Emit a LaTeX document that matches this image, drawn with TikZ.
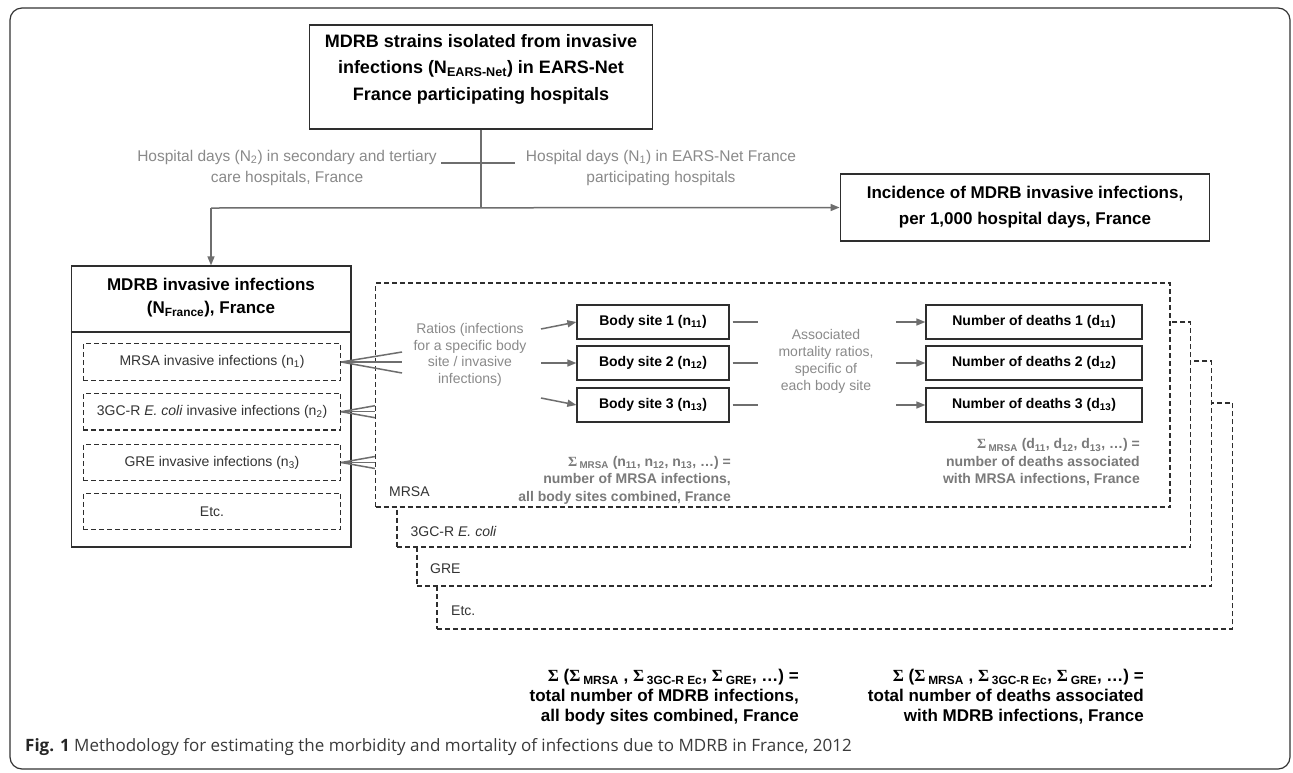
\documentclass[tikz,border=0pt]{standalone}
\usepackage{fontspec}
\setmainfont{Liberation Sans}
\newfontfamily\sigfont{Liberation Serif}
\newfontfamily\capfont{Open Sans}
\usetikzlibrary{arrows.meta}
\definecolor{framec}{HTML}{333333}
\definecolor{boxc}{HTML}{2E2E2E}
\definecolor{linegray}{HTML}{6E6E6E}
\definecolor{lblgray}{HTML}{8A8A8A}
\definecolor{sumgray}{HTML}{7A7A7A}
\definecolor{rowc}{HTML}{333333}
\definecolor{capc}{HTML}{3A3A3A}
\newcommand\mysig{{\sigfont Σ}}
\begin{document}
\begin{tikzpicture}[x=1pt,y=-1pt,
  box/.style={draw=boxc, line width=1.3pt, inner sep=0pt},
  dbox/.style={draw=boxc, line width=1.1pt, dash pattern=on 5pt off 3pt, inner sep=0pt,
     font=\fontsize{14}{17}\selectfont, text=rowc},
  frame/.style={draw=boxc, line width=1.1pt, dash pattern=on 5pt off 3pt, fill=white, inner sep=0pt},
  conn/.style={draw=linegray, line width=1.5pt},
  arr/.style={conn, -{Triangle[length=9pt,width=7pt]}},
  title/.style={font=\fontsize{17}{26}\selectfont\bfseries, align=center, text=black},
  bsbox/.style={box, font=\fontsize{14}{17}\selectfont\bfseries, text=black},
  lbl/.style={font=\fontsize{15.5}{21}\selectfont, align=center, text=lblgray},
  lblsm/.style={font=\fontsize{14}{16.5}\selectfont, align=center, text=lblgray},
  frlbl/.style={font=\fontsize{14}{17}\selectfont, text=rowc, anchor=west, inner sep=0pt},
  sumg/.style={font=\fontsize{14}{17.5}\selectfont\bfseries, align=right, text=sumgray, anchor=east, inner sep=0pt},
  sumk/.style={font=\fontsize{17}{20}\selectfont\bfseries, align=right, text=black, anchor=east, inner sep=0pt}
]
\useasboundingbox (0,0) rectangle (1293,772);
\fill[white] (0,0) rectangle (1293,772);
% outer frame
\draw[draw=framec, line width=1.2pt, rounded corners=12pt] (10,8) rectangle (1290,769);

% top box
\node[box, minimum width=343.5pt, minimum height=104pt] (top) at (481,77) {};
\node[title, font=\fontsize{18}{26.5}\selectfont\bfseries] (toptxt) at (481,69)
  {MDRB strains isolated from invasive\\infections (N\textsubscript{EARS-Net}) in EARS-Net\\France participating hospitals};

% hospital days labels
\node[lbl] (hdL) at (287,167.5) {Hospital days (N\textsubscript{2}) in secondary and tertiary\\care hospitals, France};
\node[lbl] (hdR) at (661,167.5) {Hospital days (N\textsubscript{1}) in EARS-Net France\\participating hospitals};
\coordinate (hl1) at (441,163);
\coordinate (hl2) at (514.5,163);
\draw[conn] (hl1) -- (hl2);

% incidence box
\node[box, minimum width=369.6pt, minimum height=67pt, font=\fontsize{17}{26}\selectfont\bfseries, align=center] (inc) at (1025,207.5)
  {Incidence of MDRB invasive infections,\\per 1,000 hospital days, France};

% MDRB box
\node[box, minimum width=279.7pt, minimum height=281pt] (mdrb) at (211,406.5) {};
\coordinate (dv) at (0,332);
\draw[draw=boxc, line width=1.3pt] (mdrb.west |- dv) -- (mdrb.east |- dv);
\node[title, font=\fontsize{17}{23}\selectfont\bfseries] (mdrbtxt) at (211,298)
  {MDRB invasive infections\\(N\textsubscript{France}), France};
\node[dbox, minimum width=257.4pt, minimum height=36.5pt] (r1) at (212,362) {MRSA invasive infections (n\textsubscript{1})};
\node[dbox, minimum width=257.4pt, minimum height=36.5pt] (r2) at (212,411.7) {3GC-R \textit{E. coli} invasive infections (n\textsubscript{2})};
\node[dbox, minimum width=257.4pt, minimum height=36.5pt] (r3) at (212,462.5) {GRE invasive infections (n\textsubscript{3})};
\node[dbox, minimum width=257.4pt, minimum height=36.5pt] (r4) at (212,511.4) {Etc.};

% main connectors
\coordinate (J) at (481,208);
\coordinate (Lc) at (211,208);
\draw[conn] (top.south) -- (J);
\draw[arr] (Lc) -- (inc.west);
\draw[arr] (Lc) -- (mdrb.north);

% stacked dashed frames
\node[frame, minimum width=795.3pt, minimum height=226pt] (fE) at (834.65,516) {};
\node[frame, minimum width=794.7pt, minimum height=225pt] (fG) at (814.35,473.5) {};
\node[frame, minimum width=793.7pt, minimum height=225pt] (fC) at (793.85,434.5) {};
\node[frame, minimum width=794.5pt, minimum height=224pt] (fM) at (772.75,395) {};
\node[frlbl] (lM) at (389,492) {MRSA};
\node[frlbl] (lC) at (410.5,531) {3GC-R \textit{E. coli}};
\node[frlbl] (lG) at (430,569) {GRE};
\node[frlbl] (lE) at (451,611) {Etc.};

% fans
\coordinate (f11) at (402,352);
\coordinate (f12) at (402,362);
\coordinate (f13) at (402,373);
\draw[conn] (r1.east) -- (f11);
\draw[conn] (r1.east) -- (f12);
\draw[conn] (r1.east) -- (f13);
\coordinate (f21) at (fM.west |- 0,405.7);
\coordinate (f22) at (fM.west |- 0,411.7);
\coordinate (f23) at (fM.west |- 0,417.7);
\draw[conn] (r2.east) -- (f21);
\draw[conn] (r2.east) -- (f22);
\draw[conn] (r2.east) -- (f23);
\coordinate (f31) at (fM.west |- 0,456.5);
\coordinate (f32) at (fM.west |- 0,462.5);
\coordinate (f33) at (fM.west |- 0,468.5);
\draw[conn] (r3.east) -- (f31);
\draw[conn] (r3.east) -- (f32);
\draw[conn] (r3.east) -- (f33);

% ratios text
\node[lblsm] (ratios) at (470,355) {Ratios (infections\\for a specific body\\site / invasive\\infections)};

% body site boxes
\node[bsbox, minimum width=152pt, minimum height=34pt] (bs1) at (653,322) {Body site 1 (n\textsubscript{11})};
\node[bsbox, minimum width=152pt, minimum height=34pt] (bs2) at (653,363) {Body site 2 (n\textsubscript{12})};
\node[bsbox, minimum width=152pt, minimum height=34pt] (bs3) at (653,405) {Body site 3 (n\textsubscript{13})};
\coordinate (a1) at (541,329);
\coordinate (a2) at (541,363);
\coordinate (a3) at (541,398);
\draw[arr] (a1) -- (bs1.west);
\draw[arr] (a2) -- (bs2.west);
\draw[arr] (a3) -- (bs3.west);
\draw[conn] ([xshift=3pt]bs1.east) -- ++(25,0);
\draw[conn] ([xshift=3pt]bs2.east) -- ++(25,0);
\draw[conn] ([xshift=3pt]bs3.east) -- ++(25,0);

% associated text
\node[lblsm, font=\fontsize{14}{17}\selectfont] (assoc) at (826,361.5) {Associated\\mortality ratios,\\specific of\\each body site};

% deaths boxes
\node[bsbox, minimum width=216pt, minimum height=34pt] (nd1) at (1034,322) {Number of deaths 1 (d\textsubscript{11})};
\node[bsbox, minimum width=216pt, minimum height=34pt] (nd2) at (1034,363) {Number of deaths 2 (d\textsubscript{12})};
\node[bsbox, minimum width=216pt, minimum height=34pt] (nd3) at (1034,405) {Number of deaths 3 (d\textsubscript{13})};
\draw[arr] ([xshift=-29pt]nd1.west) -- (nd1.west);
\draw[arr] ([xshift=-29pt]nd2.west) -- (nd2.west);
\draw[arr] ([xshift=-29pt]nd3.west) -- (nd3.west);

% sums (gray)
\node[sumg] (sumN) at (731,480) {\mysig\,\textsubscript{MRSA} (n\textsubscript{11}, n\textsubscript{12}, n\textsubscript{13}, …) =\\number of MRSA infections,\\all body sites combined, France};
\node[sumg] (sumD) at (1140,462.5) {\mysig\,\textsubscript{MRSA} (d\textsubscript{11}, d\textsubscript{12}, d\textsubscript{13}, …) =\\number of deaths associated\\with MRSA infections, France};

% totals (black)
\node[sumk] (totN) at (799,697) {\mysig\ (\mysig\,\textsubscript{MRSA} , \mysig\,\textsubscript{3GC-R Ec}, \mysig\,\textsubscript{GRE}, …) =\\total number of MDRB infections,\\all body sites combined, France};
\node[sumk] (totD) at (1144,697) {\mysig\ (\mysig\,\textsubscript{MRSA} , \mysig\,\textsubscript{3GC-R Ec}, \mysig\,\textsubscript{GRE}, …) =\\total number of deaths associated\\with MDRB infections, France};

% caption
\node[anchor=west, inner sep=0pt, font=\capfont\fontsize{17}{20}\selectfont, text=capc] (cap) at (25,747)
  {{\bfseries\color{black!85}Fig. 1} Methodology for estimating the morbidity and mortality of infections due to MDRB in France, 2012};
\end{tikzpicture}
\end{document}
